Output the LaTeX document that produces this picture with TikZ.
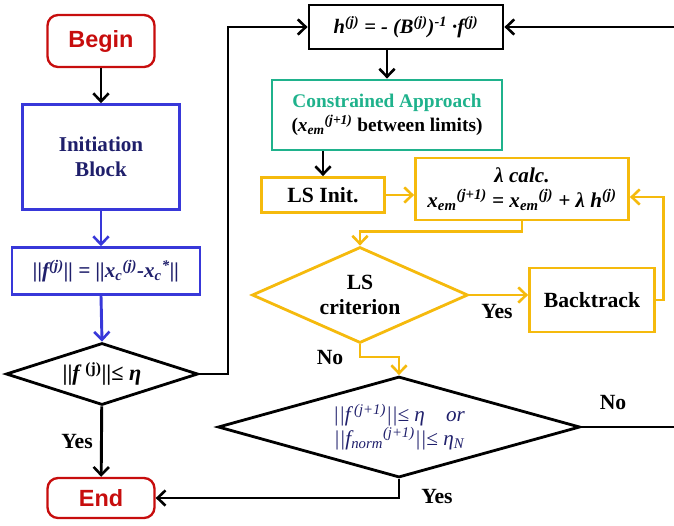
\documentclass[tikz,border=0pt]{standalone}
\usepackage{fontspec}
\setmainfont{Liberation Serif}
\setsansfont{Liberation Sans}
\usetikzlibrary{shapes.geometric, arrows.meta, calc}
\definecolor{termred}{rgb}{0.78, 0.05, 0.05}
\definecolor{initblue}{rgb}{0.22, 0.22, 0.85}
\definecolor{navytext}{rgb}{0.12, 0.12, 0.42}
\definecolor{approachgreen}{rgb}{0.12, 0.70, 0.55}
\definecolor{lsyellow}{rgb}{0.96, 0.73, 0.05}
\tikzstyle{terminal} = [rectangle, rounded corners=9pt, draw=termred, line width=2pt, minimum width=3.21cm, text=termred, font=\sffamily\bfseries\fontsize{20}{24}\selectfont]
\tikzstyle{initbox} = [rectangle, draw=initblue, line width=2.2pt, text=navytext, align=center, font=\bfseries\fontsize{18}{21}\selectfont]
\tikzstyle{blackbox} = [rectangle, draw=black, line width=2.4pt, align=center, font=\bfseries\itshape\fontsize{17.5}{20}\selectfont]
\tikzstyle{greenbox} = [rectangle, draw=approachgreen, line width=2.4pt, align=center, font=\bfseries\fontsize{16.5}{20}\selectfont]
\tikzstyle{lsbox} = [rectangle, draw=lsyellow, line width=2.4pt, align=center, font=\bfseries\fontsize{18.5}{21}\selectfont]
\tikzstyle{decision} = [diamond, draw=black, line width=2.4pt, inner sep=0, align=center]
\tikzstyle{answer} = [font=\bfseries\fontsize{18.5}{21}\selectfont]
\tikzstyle{blackline} = [draw=black, line width=2.5pt]
\tikzstyle{blackarrow} = [blackline, -{Straight Barb[length=2.4mm, width=4.6mm, line width=2.2pt]}]
\tikzstyle{bluearrow} = [draw=initblue, line width=2.5pt, -{Straight Barb[length=2.4mm, width=4.6mm, line width=2.2pt]}]
\tikzstyle{yellowarrow} = [draw=lsyellow, line width=2.5pt, -{Straight Barb[length=2.4mm, width=4.6mm, line width=2.2pt]}]

\begin{document}
\begin{tikzpicture}[x=0.03cm, y=-0.03cm]

    \useasboundingbox (0,0) rectangle (674,525);

    % Left column: start and convergence test
    \node (begin) at (101,41) [terminal, minimum height=1.56cm] {Begin};
    \node (init) at (101,157) [initbox, minimum width=4.71cm, minimum height=3.15cm] {Initiation\\Block};
    \node (fnorm) at (106,271) [initbox, minimum width=5.64cm, minimum height=1.41cm, font=\bfseries\itshape\fontsize{18}{21}\selectfont] {||f\textsuperscript{(j)}|| = ||x\textsubscript{c}\textsuperscript{(j)}-x\textsubscript{c}\textsuperscript{*}||};
    \node (conv) at (102,374) [decision, minimum width=5.76cm, minimum height=1.86cm, aspect=3.1, font=\bfseries\fontsize{19}{22}\selectfont] {||\textit{f}\,\textsuperscript{(j)}||≤ \textit{η}};
    \node (end) at (101,498) [terminal, minimum height=1.2cm] {End};

    \draw[blackarrow] (begin) -- (init);
    \draw[bluearrow] (init.south) -- (init.south |- fnorm.north);
    \draw[bluearrow] (init.south |- fnorm.south) -- (conv.north);
    \draw[blackarrow] (conv) -- (end) node[midway, left, answer, xshift=-0.1cm] {Yes};

    % Newton step
    \node (hstep) at (406,27) [blackbox, minimum width=5.82cm, minimum height=1.32cm] {h\textsuperscript{(j)} = - (B\textsuperscript{(j)})\textsuperscript{-1} ·f\textsuperscript{(j)}};
    \coordinate (loopleft) at (228,27);
    \draw[blackarrow] (conv.east) -| (loopleft) -- (hstep.west);

    \node (approach) at (387,115) [greenbox, minimum width=6.9cm, minimum height=2.1cm] {\textcolor{approachgreen}{Constrained Approach}\\(\textit{x\textsubscript{em}\textsuperscript{(j+1)}} between limits)};
    \draw[blackarrow] (approach.north |- hstep.south) -- (approach.north);

    % Line search
    \node (lsinit) at (323,195) [lsbox, minimum width=3.69cm, minimum height=1.05cm] {LS Init.};
    \draw[blackarrow] (lsinit.north |- approach.south) -- (lsinit.north);

    \node (lambda) at (522,189) [lsbox, minimum width=6.39cm, minimum height=1.86cm, font=\bfseries\itshape\fontsize{18}{21}\selectfont] {λ calc.\\x\textsubscript{em}\textsuperscript{(j+1)} = x\textsubscript{em}\textsuperscript{(j)} + λ h\textsuperscript{(j)}};
    \draw[yellowarrow] (lsinit.east) -- (lsinit.east -| lambda.west);

    \node (lscrit) at (360,295) [decision, draw=lsyellow, minimum width=6.48cm, minimum height=2.88cm, aspect=2.25, font=\bfseries\fontsize{18.5}{21}\selectfont] {LS\\criterion};
    \draw[yellowarrow] (lambda.south) -- ++(0,10) -| (lscrit.north);

    \node (backtrack) at (592,300) [lsbox, minimum width=3.75cm, minimum height=1.92cm] {Backtrack};
    \draw[yellowarrow] (lscrit.east) -- (lscrit.east -| backtrack.west);
    \node at (497,312) [answer] {Yes};
    \draw[yellowarrow] (backtrack.east) -- ++(8,0) |- ($(lambda.east)+(0,8)$);

    % Final test
    \node (stop) at (399,427) [decision, minimum width=10.86cm, minimum height=3.03cm, aspect=3.58, text=navytext, font=\itshape\fontsize{18}{18}\selectfont] {||f\,\textsuperscript{(j+1)}||≤ η\quad or\\||f\textsubscript{norm}\textsuperscript{(j+1)}||≤ η\textsubscript{N}};
    \coordinate (lsno) at (360,357);
    \draw[yellowarrow] (lscrit.south) -- (lsno) -| (stop.north);
    \node at (330,358) [answer] {No};

    \draw[blackarrow] (stop.south) |- (end.east);
    \node at (437,497) [answer] {Yes};

    % Back to Newton step (runs off the right edge)
    \coordinate (rightlow) at (680,427);
    \coordinate (righttop) at (680,27);
    \draw[blackarrow] (stop.east) -- (rightlow) -- (righttop) -- (hstep.east);
    \node at (613,403) [answer] {No};

\end{tikzpicture}
\end{document}
